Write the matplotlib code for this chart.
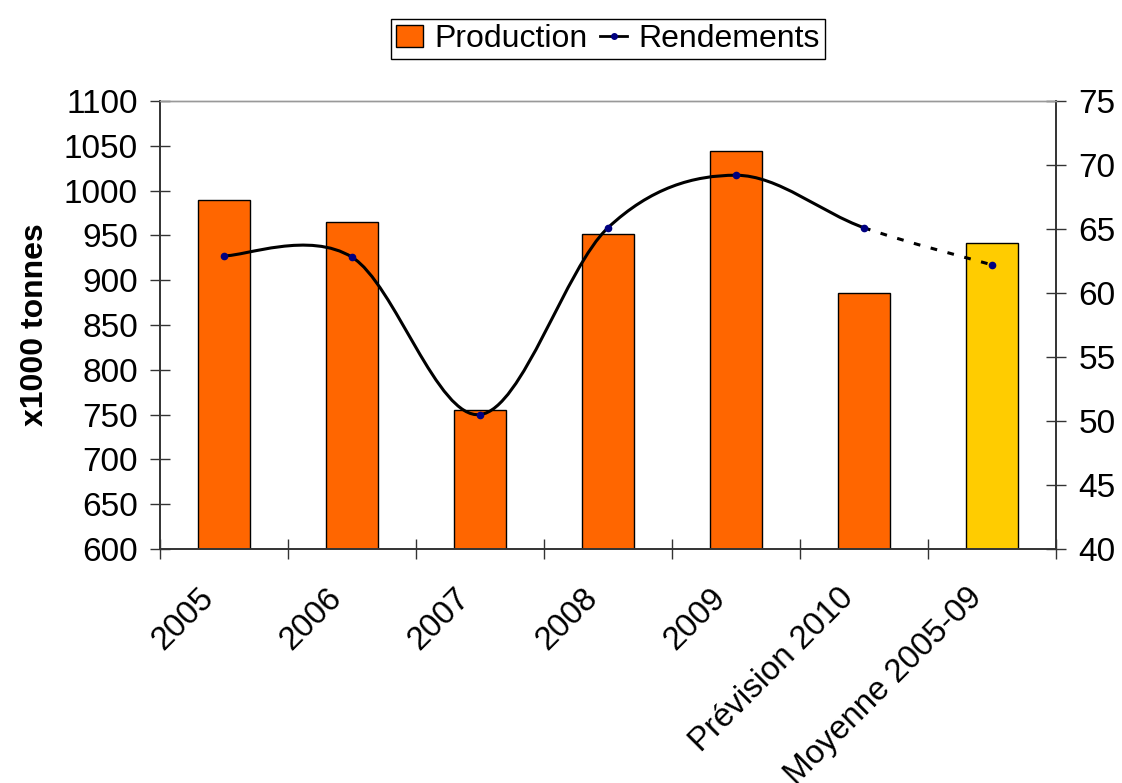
import numpy as np
import matplotlib.pyplot as plt
from matplotlib.path import Path
from matplotlib.patches import PathPatch, Patch
from matplotlib.lines import Line2D
from matplotlib.transforms import ScaledTranslation

plt.rcParams['font.family'] = ['Liberation Sans', 'DejaVu Sans']

# donnees
categories = ['2005', '2006', '2007', '2008', '2009', 'Prévision 2010', 'Moyenne 2005-09']
production = [989, 965, 755, 952, 1044, 886, 941]
rendements = [62.9, 62.8, 50.5, 65.1, 69.2, 65.1, 62.2]
bar_colors = ['#FF6600'] * 6 + ['#FFCC00']

fs = 23

fig = plt.figure(figsize=(11.22, 7.83), dpi=100)
ax = fig.add_axes([160 / 1122, 1 - 549 / 783, (1056 - 160) / 1122, (549 - 101) / 783])
ax2 = ax.twinx()

x = np.arange(len(categories))
ax.bar(x, production, width=0.41, color=bar_colors, edgecolor='black', linewidth=1, zorder=2)
ax.set_ylim(600, 1100)
ax.set_yticks(np.arange(600, 1101, 50))
ax.set_xlim(-0.5, len(categories) - 0.5)
ax.set_xticks(np.arange(-0.5, len(categories), 1))
ax.set_xticklabels([])
ax.tick_params(axis='x', direction='inout', length=14, width=1, color='#333333')
# etiquettes de categories, decalees comme dans Excel
off = ScaledTranslation(-0.26, -0.33, fig.dpi_scale_trans)
for xi, lab in zip(x, categories):
    ax.text(xi, 0, lab, transform=ax.get_xaxis_transform() + off, rotation=45,
            rotation_mode='anchor', ha='right', va='top', fontsize=23.7)
ax.tick_params(axis='y', direction='inout', length=14, width=1, labelsize=24, pad=9, color='#333333')
ax.set_ylabel('x1000 tonnes', fontsize=fs, fontweight='bold', labelpad=10)

ax2.set_ylim(40, 75)
ax2.set_yticks(np.arange(40, 76, 5))
ax2.tick_params(axis='y', direction='inout', length=14, width=1, labelsize=24, pad=9, color='#333333')

for a in (ax, ax2):
    for s in ('left', 'right', 'bottom'):
        a.spines[s].set_color('#333333')
        a.spines[s].set_linewidth(1.2)
    a.spines['top'].set_color('#999999')
    a.spines['top'].set_linewidth(1)

# courbe lissee (bezier a la Excel)
pts = np.column_stack([x, rendements]).astype(float)
n = len(pts)


def segment(i):
    p0 = pts[max(i - 1, 0)]
    p1 = pts[i]
    p2 = pts[i + 1]
    p3 = pts[min(i + 2, n - 1)]
    c1 = p1 + (p2 - p0) / 6
    c2 = p2 - (p3 - p1) / 6
    return [p1, c1, c2, p2]


verts = [pts[0]]
codes = [Path.MOVETO]
for i in range(n - 2):
    s = segment(i)
    verts += s[1:]
    codes += [Path.CURVE4] * 3
ax2.add_patch(PathPatch(Path(verts, codes), facecolor='none', edgecolor='black', lw=2.2, zorder=3))
last = segment(n - 2)
ax2.add_patch(PathPatch(Path(last, [Path.MOVETO] + [Path.CURVE4] * 3), facecolor='none',
                        edgecolor='black', lw=2.2, linestyle=(0, (2.2, 3.5)), zorder=3))
ax2.plot(x, rendements, linestyle='none', marker='o', markersize=4.5,
         markerfacecolor='#000080', markeredgecolor='#000080', zorder=4)

handles = [Patch(facecolor='#FF6600', edgecolor='black', linewidth=1),
           Line2D([], [], color='black', lw=2, marker='o', markersize=4,
                  markerfacecolor='#000080', markeredgecolor='#000080')]
fig.legend(handles, ['Production', 'Rendements'], loc='center', bbox_to_anchor=(608 / 1122, 1 - 39 / 783),
           ncol=2, fontsize=fs, frameon=True, fancybox=False, edgecolor='black', framealpha=1,
           handlelength=0.85, handletextpad=0.35, columnspacing=0.4, borderpad=0.15, borderaxespad=0)

fig.savefig('out.png', dpi=100)
